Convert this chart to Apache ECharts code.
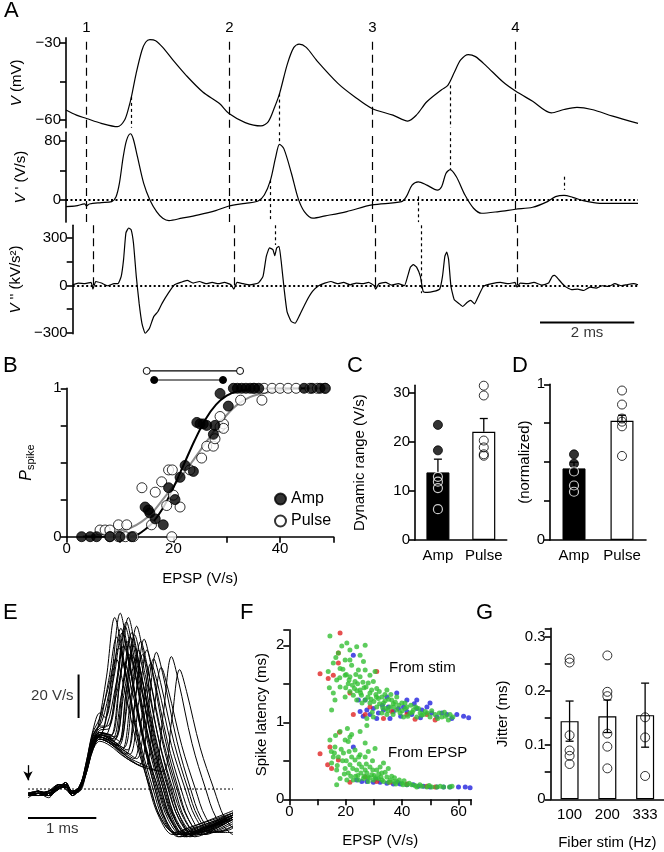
<!DOCTYPE html>
<html><head><meta charset="utf-8">
<script src="https://cdn.jsdelivr.net/npm/echarts@6/dist/echarts.min.js"></script>
<style>html,body{margin:0;padding:0;background:#fff}#c{width:664px;height:852px}</style>
</head><body><div id="c"></div>
<script>
// ================= DATA =================
// Panel A (time in ms)
const stimTimes = [0.43, 3.43, 6.43, 9.43];
const stimLabels = ['1', '2', '3', '4'];
const vTrace = [[0,-56.1],[0.22,-58.1],[0.43,-59.4],[0.74,-61.3],[1.08,-62.6],[1.23,-60.0],[1.32,-54.9],[1.38,-50.3],[1.47,-42.0],[1.59,-33.0],[1.67,-29.7],[1.76,-28.7],[1.88,-29.1],[2.03,-31.7],[2.25,-36.8],[2.52,-42.6],[2.87,-49.1],[3.22,-53.6],[3.42,-57.5],[3.76,-61.0],[4.09,-62.3],[4.245,-60.6],[4.38,-54.8],[4.48,-49.7],[4.645,-38.1],[4.78,-31.7],[4.89,-30.4],[5.04,-31.7],[5.26,-36.8],[5.71,-45.8],[6.06,-51.0],[6.42,-55.5],[6.86,-58.1],[7.17,-60.4],[7.35,-58.1],[7.57,-52.9],[7.88,-48.2],[8.01,-46.5],[8.15,-41.3],[8.28,-36.6],[8.44,-34.5],[8.59,-35.3],[8.81,-38.8],[9.17,-45.2],[9.43,-48.7],[9.79,-52.7],[10.18,-57.2],[10.45,-55.9],[10.72,-55.1],[11.03,-55.9],[11.47,-58.5],[12.0,-61.3]];
const dvTrace = [[0,-9.0],[0.21,-8.1],[0.39,-5.4],[0.43,-8.1],[0.49,-5.4],[0.74,-3.6],[0.96,-2.2],[1.05,4.5],[1.12,22.5],[1.20,58.4],[1.27,80.9],[1.35,89.9],[1.41,83.1],[1.50,58.4],[1.63,22.5],[1.76,0],[1.90,-15.7],[2.03,-24.7],[2.16,-27.9],[2.43,-24.7],[2.78,-20.2],[3.14,-14.4],[3.42,-8.1],[3.76,-4.5],[4.03,-1.3],[4.16,6.7],[4.29,27.0],[4.40,58.4],[4.48,75.5],[4.57,69.7],[4.73,36.0],[4.87,2.2],[5.00,-15.7],[5.18,-24.7],[5.44,-21.6],[5.89,-15.7],[6.42,-6.7],[7.04,-2.2],[7.14,4.5],[7.26,20.2],[7.39,24.7],[7.57,20.2],[7.79,13.5],[7.88,18.0],[7.97,36.0],[8.06,41.3],[8.19,31.5],[8.37,6.7],[8.55,-11.2],[8.72,-18.0],[9.08,-15.7],[9.43,-12.6],[9.79,-9.9],[10.10,-2.2],[10.27,4.5],[10.45,6.3],[10.63,3.6],[10.85,-0.9],[11.20,-4.5],[12.0,-4.5]];
const d2vTrace = [[0,4],[0.12,15],[0.26,11],[0.39,19],[0.43,-23],[0.49,25],[0.61,15],[0.74,-2],[0.88,11],[0.96,11],[1.03,57],[1.08,163],[1.13,332],[1.19,363],[1.24,353],[1.29,268],[1.35,57],[1.41,-112],[1.47,-239],[1.54,-302],[1.63,-270],[1.72,-197],[1.81,-165],[1.90,-112],[2.03,-49],[2.16,4],[2.29,19],[2.43,32],[2.56,15],[2.69,25],[2.83,11],[2.96,19],[3.09,11],[3.22,19],[3.36,4],[3.42,-23],[3.49,19],[3.62,11],[3.76,4],[3.94,15],[4.04,57],[4.11,184],[4.18,237],[4.25,226],[4.29,188],[4.33,237],[4.38,247],[4.43,142],[4.49,-27],[4.55,-165],[4.64,-228],[4.72,-239],[4.82,-186],[4.96,-101],[5.09,-38],[5.22,-2],[5.35,15],[5.48,25],[5.62,11],[5.75,19],[5.89,4],[6.02,15],[6.15,11],[6.28,19],[6.40,-2],[6.43,-23],[6.50,11],[6.64,19],[6.77,2],[6.91,11],[7.04,-2],[7.11,57],[7.17,116],[7.23,131],[7.30,116],[7.38,57],[7.44,-38],[7.53,-44],[7.66,-38],[7.79,-23],[7.85,57],[7.90,184],[7.94,211],[7.98,163],[8.03,-6],[8.10,-91],[8.19,-112],[8.28,-133],[8.37,-108],[8.45,-95],[8.53,-116],[8.61,-70],[8.72,-6],[8.90,11],[9.08,19],[9.25,11],[9.39,19],[9.43,-11],[9.50,15],[9.65,11],[9.79,19],[9.96,2],[10.10,15],[10.18,57],[10.23,63],[10.32,36],[10.45,-6],[10.59,-27],[10.72,-23],[10.85,-32],[10.98,-11],[11.11,-17],[11.24,-2],[11.38,-6],[11.51,11],[11.65,-2],[11.78,6],[11.91,11],[12.0,4]];
// dotted spike-time markers: [time, from, to] in each trace's units
const dotSegV = [[1.36,-51.0,-63],[4.48,-49.7,-63],[8.06,-46.5,-63]];
const dotSegDV = [[4.48,92,75.5],[8.06,92,41.3],[4.29,27,-30],[7.39,5,-30],[10.45,31.6,13.6]];
const dotSegD2V = [[4.29,380,256],[7.39,380,-49]];
const scaleBarA = {from: 9.92, to: 11.92, level: -234, label: '2 ms'};

// Panel B
const bAmpPts = [[2.8,0],[4.4,0],[5.6,0],[8.1,0],[10,0],[12.2,0],[14.7,0.2],[15.3,0.18],[15.6,0.16],[16.6,0.12],[18.1,0.08],[19.1,0.33],[20.3,0.25],[21.25,0.40],[22.2,0.48],[23.75,0.44],[24.4,0.77],[25,0.76],[25.6,0.76],[26.25,0.75],[27.5,0.69],[27.8,0.75],[28.75,0.965],[30.3,0.88],[31.25,1],[32,1],[32.8,1],[33.6,1],[34.4,1],[35.2,1],[36,1],[44.5,1],[46,1],[47.5,1],[48.4,1]];
const bPulsePts = [[6.25,0.045],[7.2,0.045],[8.1,0.045],[9.7,0.08],[11.25,0.08],[8.1,0],[9.7,0],[11,0],[12.5,0],[14.1,0.33],[15.9,0.08],[16.6,0.30],[17.8,0.37],[18.75,0.21],[19.7,0],[19.1,0.45],[19.8,0.45],[20,0.28],[21.25,0.20],[23.1,0.45],[25.3,0.53],[26.25,0.61],[27.5,0.61],[27.8,0.66],[28.75,0.74],[29.4,0.76],[28.75,0.81],[29.4,0.73],[32.6,0.92],[36.6,0.92],[35,1],[37,1],[38.5,1],[40,1],[41.5,1],[43,1],[45.6,1],[47,1],[48.5,1]];
const bAmpFit = [[3,0],[12,0],[13,0.01],[14,0.03],[16,0.09],[18,0.19],[20,0.33],[22,0.49],[24,0.65],[26,0.79],[28,0.89],[30,0.95],[32,0.98],[35,0.995],[40,1],[49,1]];
const bPulseFit = [[3,0],[7,0.02],[10,0.04],[12,0.06],[14,0.1],[16,0.16],[18,0.25],[20,0.34],[22,0.43],[24,0.53],[26,0.63],[28,0.73],[30,0.82],[32,0.89],[35,0.95],[40,0.985],[45,1],[49,1]];
const bAmpRange = [[16.4,1.056],[29.3,1.056]];
const bPulseRange = [[15.0,1.117],[32.5,1.117]];

// Panels C and D
const groups = ['Amp', 'Pulse'];
const cMean = [13.8, 22.1];
const cSem = [2.7, 2.7];
const cAmpCells = [23.5, 18.3, 12.9, 11.9, 10.6, 6.3];
const cPulseCells = [31.5, 29.5, 20.3, 18.9, 17.5, 17.2];
const dMean = [0.46, 0.766];
const dSem = [0.04, 0.035];
const dAmpCells = [0.55, 0.49, 0.44, 0.35, 0.31];
const dPulseCells = [0.96, 0.87, 0.78, 0.76, 0.73, 0.54];

// Panel E (t in ms, V' in V/s)
const eTraces = [
 [[0,-3],[0.15,-1],[0.3,-3],[0.45,1],[0.55,2],[0.65,-2],[0.75,0],[0.85,9],[0.95,22],[1.02,28],[1.15,52],[1.27,79],[1.37,65],[1.57,28],[1.77,1],[1.92,-13],[2.12,-21],[2.32,-19],[3.0,-12]],
 [[0,-2],[0.15,-3],[0.3,-1],[0.45,2],[0.55,0],[0.65,-3],[0.75,1],[0.85,10],[0.95,21],[1.1,27],[1.23,54],[1.35,81],[1.45,66],[1.65,28],[1.85,1],[2.0,-14],[2.2,-22],[2.4,-20],[3.0,-11]],
 [[0,-4],[0.15,-2],[0.3,-2],[0.45,0],[0.55,3],[0.65,-1],[0.75,-1],[0.85,7],[0.95,19],[1.05,25],[1.17,26],[1.30,50],[1.42,75],[1.52,62],[1.72,26],[1.92,1],[2.07,-13],[2.27,-21],[2.47,-19],[3.0,-13]],
 [[0,-3],[0.15,-2],[0.3,-4],[0.45,1],[0.55,1],[0.65,-2],[0.75,1],[0.85,11],[0.95,24],[1.05,30],[1.18,50],[1.30,70],[1.40,57],[1.60,25],[1.80,0],[1.95,-14],[2.15,-20],[2.35,-18],[3.0,-10]],
 [[0,-2],[0.15,-2],[0.3,-3],[0.45,0],[0.55,2],[0.65,-2],[0.75,0],[0.85,12],[0.95,27],[1.05,35],[1.13,33],[1.26,52],[1.38,72],[1.48,59],[1.68,25],[1.88,0],[2.03,-15],[2.23,-22],[2.43,-20],[3.0,-14]],
 [[0,-3],[0.15,-1],[0.3,-2],[0.45,2],[0.55,1],[0.65,-3],[0.75,0],[0.85,8],[0.95,20],[1.05,25],[1.2,24],[1.33,46],[1.45,68],[1.55,56],[1.75,24],[1.95,0],[2.1,-14],[2.3,-21],[2.5,-19],[3.0,-12]],
 [[0,-2],[0.15,-3],[0.3,-2],[0.45,1],[0.55,2],[0.65,-1],[0.75,1],[0.85,9],[0.95,20],[1.05,24],[1.25,22],[1.38,46],[1.50,70],[1.60,57],[1.80,25],[2.0,0],[2.15,-14],[2.35,-21],[2.55,-19],[3.0,-13]],
 [[0,-3],[0.15,-2],[0.3,-3],[0.45,0],[0.55,2],[0.65,-2],[0.75,-1],[0.85,7],[0.95,18],[1.05,23],[1.3,20],[1.43,43],[1.55,66],[1.65,54],[1.85,23],[2.05,0],[2.2,-13],[2.4,-20],[2.6,-18],[3.0,-12]],
 [[0,-2],[0.15,-2],[0.3,-1],[0.45,1],[0.55,3],[0.65,-2],[0.75,0],[0.85,10],[0.95,21],[1.05,26],[1.2,25],[1.34,22],[1.47,48],[1.59,75],[1.69,62],[1.89,26],[2.09,1],[2.24,-14],[2.44,-22],[2.64,-20],[3.0,-14]],
 [[0,-3],[0.15,-1],[0.3,-3],[0.45,2],[0.55,1],[0.65,-2],[0.75,0],[0.85,9],[0.95,20],[1.05,24],[1.2,21],[1.37,18],[1.5,41],[1.62,64],[1.72,52],[1.92,22],[2.12,0],[2.27,-13],[2.47,-20],[2.67,-19],[3.0,-13]],
 [[0,-2],[0.15,-3],[0.3,-2],[0.45,0],[0.55,2],[0.65,-1],[0.75,1],[0.85,8],[0.95,19],[1.05,23],[1.2,21],[1.43,16],[1.56,39],[1.68,62],[1.78,51],[1.98,22],[2.18,0],[2.33,-13],[2.53,-20],[2.73,-18],[3.0,-14]],
 [[0,-3],[0.15,-2],[0.3,-2],[0.45,1],[0.55,1],[0.65,-3],[0.75,0],[0.85,10],[0.95,22],[1.05,26],[1.2,24],[1.35,19],[1.49,16],[1.62,40],[1.74,64],[1.84,52],[2.04,22],[2.24,0],[2.39,-13],[2.59,-21],[2.79,-19],[3.0,-16]],
 [[0,-2],[0.15,-1],[0.3,-3],[0.45,2],[0.55,2],[0.65,-2],[0.75,1],[0.85,9],[0.95,20],[1.05,24],[1.2,22],[1.4,17],[1.55,14],[1.68,36],[1.80,58],[1.9,48],[2.1,20],[2.3,0],[2.45,-13],[2.65,-20],[2.85,-19],[3.0,-17]],
 [[0,-3],[0.15,-2],[0.3,-1],[0.45,0],[0.55,3],[0.65,-1],[0.75,0],[0.85,8],[0.95,19],[1.05,23],[1.2,21],[1.4,16],[1.63,11],[1.76,37],[1.88,63],[1.98,52],[2.18,22],[2.38,0],[2.53,-13],[2.73,-20],[2.93,-19],[3.0,-18]],
 [[0,-2],[0.15,-3],[0.3,-2],[0.45,1],[0.55,1],[0.65,-2],[0.75,-1],[0.85,7],[0.95,18],[1.05,22],[1.2,20],[1.4,15],[1.7,10],[1.83,33],[1.95,56],[2.05,46],[2.25,20],[2.45,0],[2.6,-13],[2.8,-20],[3.0,-20]],
 [[0,-3],[0.15,-1],[0.3,-3],[0.45,1],[0.55,2],[0.65,-3],[0.75,0],[0.85,9],[0.95,20],[1.05,24],[1.2,22],[1.45,15],[1.7,11],[1.85,9],[1.98,35],[2.10,61],[2.2,50],[2.4,21],[2.6,0],[2.75,-13],[2.95,-20],[3.0,-21]],
 [[0,-2],[0.15,-2],[0.3,-3],[0.45,0],[0.55,2],[0.65,-1],[0.75,1],[0.85,8],[0.95,19],[1.05,23],[1.2,21],[1.45,14],[1.7,10],[1.97,8],[2.10,31],[2.22,55],[2.32,45],[2.52,19],[2.72,0],[2.87,-13],[3.0,-18]],
 [[0,-3],[0.15,-3],[0.3,-1],[0.45,1],[0.55,2],[0.65,-2],[0.75,0],[0.85,10],[0.95,23],[1.05,28],[1.15,29],[1.28,47],[1.40,66],[1.50,54],[1.70,23],[1.90,0],[2.05,-14],[2.25,-21],[2.45,-20],[3.0,-12]],
 [[0,-2],[0.15,-2],[0.3,-2],[0.45,2],[0.55,0],[0.65,-2],[0.75,1],[0.85,9],[0.95,21],[1.05,26],[1.23,23],[1.36,42],[1.48,62],[1.58,51],[1.78,22],[1.98,0],[2.13,-13],[2.33,-21],[2.53,-19],[3.0,-13]],
 [[0,-3],[0.15,-2],[0.3,-3],[0.45,1],[0.55,2],[0.65,-2],[0.75,0],[0.85,11],[0.95,25],[1.08,31],[1.21,48],[1.33,65],[1.43,53],[1.63,23],[1.83,0],[1.98,-14],[2.18,-21],[2.38,-19],[3.0,-11]],
 [[0,-2],[0.15,-1],[0.3,-3],[0.45,0],[0.55,1],[0.65,-3],[0.75,0],[0.85,8],[0.95,20],[1.05,25],[1.27,23],[1.40,48],[1.52,72],[1.62,59],[1.82,25],[2.02,0],[2.17,-15],[2.37,-22],[2.57,-20],[3.0,-13]],
 [[0,-3],[0.15,-2],[0.3,-2],[0.45,1],[0.55,2],[0.65,-2],[0.75,1],[0.85,9],[0.95,21],[1.05,25],[1.2,23],[1.4,19],[1.53,44],[1.65,68],[1.75,56],[1.95,24],[2.15,0],[2.3,-14],[2.5,-21],[2.7,-19],[3.0,-14]],
 [[0,-2],[0.15,-3],[0.3,-1],[0.45,2],[0.55,1],[0.65,-1],[0.75,0],[0.85,10],[0.95,22],[1.05,27],[1.19,28],[1.32,52],[1.44,77],[1.54,63],[1.74,27],[1.94,1],[2.09,-14],[2.29,-22],[2.49,-20],[3.0,-12]],
 [[0,-3],[0.15,-1],[0.3,-2],[0.45,0],[0.55,3],[0.65,-2],[0.75,-1],[0.85,8],[0.95,19],[1.05,24],[1.2,22],[1.33,20],[1.46,40],[1.58,60],[1.68,49],[1.88,21],[2.08,0],[2.23,-13],[2.43,-20],[2.63,-19],[3.0,-13]],
 [[0,-2],[0.15,-2],[0.3,-3],[0.45,1],[0.55,1],[0.65,-2],[0.75,0],[0.85,10],[0.95,22],[1.1,27],[1.24,50],[1.36,74],[1.46,61],[1.66,26],[1.86,0],[2.01,-14],[2.21,-21],[2.41,-19],[3.0,-12]],
 [[0,-3],[0.15,-2],[0.3,-1],[0.45,1],[0.55,2],[0.65,-2],[0.75,1],[0.85,9],[0.95,21],[1.05,26],[1.22,25],[1.35,52],[1.47,79],[1.57,65],[1.77,28],[1.97,1],[2.12,-14],[2.32,-22],[2.52,-20],[3.0,-13]],
 [[0,-2],[0.15,-3],[0.3,-2],[0.45,0],[0.55,2],[0.65,-1],[0.75,0],[0.85,8],[0.95,20],[1.05,25],[1.31,21],[1.44,46],[1.56,71],[1.66,58],[1.86,25],[2.06,0],[2.21,-14],[2.41,-21],[2.61,-19],[3.0,-13]],
 [[0,-3],[0.15,-1],[0.3,-2],[0.45,2],[0.55,1],[0.65,-2],[0.75,1],[0.85,9],[0.95,21],[1.05,25],[1.2,23],[1.45,18],[1.58,44],[1.70,69],[1.80,57],[2.0,24],[2.2,0],[2.35,-14],[2.55,-21],[2.75,-19],[3.0,-15]],
 [[0,-2],[0.15,-2],[0.3,-3],[0.45,1],[0.55,2],[0.65,-2],[0.75,0],[0.85,12],[0.95,26],[1.04,32],[1.17,46],[1.29,60],[1.39,49],[1.59,21],[1.79,0],[1.94,-13],[2.14,-20],[2.34,-18],[3.0,-11]],
 [[0,-3],[0.15,-2],[0.3,-2],[0.45,0],[0.55,1],[0.65,-2],[0.75,0],[0.85,10],[0.95,24],[1.05,29],[1.16,29],[1.29,43],[1.41,58],[1.51,47],[1.71,20],[1.91,0],[2.06,-13],[2.26,-20],[2.46,-19],[3.0,-12]],
 [[0,-2],[0.15,-1],[0.3,-3],[0.45,1],[0.55,2],[0.65,-2],[0.75,1],[0.85,9],[0.95,20],[1.05,24],[1.2,22],[1.4,18],[1.59,14],[1.72,37],[1.84,60],[1.94,49],[2.14,21],[2.34,0],[2.49,-13],[2.69,-20],[2.89,-19],[3.0,-17]],
 [[0,-3],[0.15,-3],[0.3,-2],[0.45,1],[0.55,1],[0.65,-2],[0.75,0],[0.85,9],[0.95,21],[1.05,26],[1.27,24],[1.40,43],[1.52,62],[1.62,51],[1.82,22],[2.02,0],[2.17,-14],[2.37,-21],[2.57,-19],[3.0,-13]]
];
const eScaleV = {t: 0.74, from: 32.7, to: 52.7, label: '20 V/s'};
const eScaleT = {from: 0, to: 1, level: -13.4, label: '1 ms'};
const eArrow = {t: 0, from: 11, to: 4};

// Panel F (EPSP slope V/s, latency ms)
const fStimGreen = [[14.4,2.12],[22.7,2.22],[17.4,1.90],[20.4,2.03],[21.5,1.94],[15.6,1.77],[13.8,1.66],[18,1.70],[19.8,1.81],[23.9,1.98],[25.1,1.87],[26.9,2.0],[26.3,1.79],[21.5,1.81],[16.8,1.55],[19.8,1.61],[21.5,1.59],[23.3,1.53],[25.1,1.59],[26.9,1.68],[28,1.51],[29.8,1.53],[31,1.44],[32.8,1.33],[34.6,1.42],[36.3,1.29],[38.1,1.33],[39.9,1.25],[41.7,1.2],[44,1.16],[45.8,1.18],[47.6,1.1],[49.9,1.07],[51.7,1.1],[54.1,1.07],[56.4,1.03],[57,1.1],[15,1.16],[16.2,1.29],[21.5,1.40],[22.7,1.35],[23.9,1.29],[26.9,1.29],[28.6,1.25],[31,1.2],[32.8,1.12],[34.6,1.10],[35.7,1.2],[38.1,1.16],[40.5,1.07],[42.8,1.12],[28.6,1.38],[31.6,1.31],[33.4,1.25],[27.5,0.96],[27.5,1.05],[29.8,1.07],[25.1,1.42],[18,1.46],[15.6,1.38],[19.8,1.33],[24.5,1.68],[30.4,1.66],[28.6,1.61],[22.1,1.74],[39.3,1.12],[45.2,1.07],[48.2,1.14],[24.2,1.5],[26.5,1.45],[29.2,1.42],[33.9,1.36],[36.9,1.24],[43.1,1.22],[50.5,1.15],[53.2,1.12],[55.4,1.08],[30.7,1.36],[35.2,1.3],[37.6,1.26],[41.1,1.18],[46.4,1.12],[20.9,1.5],[17.9,1.58],[25.6,1.35],[20.2,1.62],[21.2,1.55],[22.4,1.48],[23.1,1.44],[24.0,1.41],[25.3,1.38],[26.1,1.52],[27.2,1.46],[27.9,1.33],[29.0,1.30],[30.0,1.27],[30.9,1.33],[32.0,1.24],[33.1,1.19],[34.0,1.28],[35.0,1.15],[36.0,1.36],[37.1,1.2],[38.8,1.22],[40.0,1.15],[41.0,1.25],[42.0,1.08],[43.6,1.13],[44.8,1.2],[46.9,1.09],[49.0,1.12],[52.6,1.05],[55.0,1.13],[58.0,1.07],[19.0,1.69],[16.5,1.84],[23.6,1.62],[20.0,1.45],[25.8,1.25],[31.9,1.4],[34.3,1.18],[36.8,1.1],[29.4,1.13],[14.2,1.45],[18.6,1.99]];
const fStimRed = [[10.9,1.63],[18,2.16],[13.8,1.57],[17.4,1.77],[17.4,1.9],[21.5,1.38],[26.9,1.10],[31,1.66],[33.4,1.05],[41.7,1.10],[48.8,1.10],[51.7,1.03],[28.6,1.2],[22.7,1.10],[15.6,1.61],[36.3,1.14],[44.6,1.04]];
const fStimBlue = [[24.5,1.29],[25.1,1.14],[27.5,1.16],[29.8,1.18],[31.6,1.12],[33.4,1.16],[35.1,1.2],[36.9,1.14],[38.7,1.18],[40.5,1.2],[41.7,1.14],[43.4,1.10],[45.2,1.18],[47,1.16],[48.8,1.2],[50.5,1.12],[52.3,1.07],[54.1,1.12],[55.9,1.10],[57.6,1.05],[59.4,1.10],[61.8,1.08],[63.6,1.06],[34.6,1.33],[38.1,1.38],[28.6,1.10],[31,1.05],[35.7,1.05],[22.7,1.87],[26.9,1.29],[41.7,1.29],[45.2,1.29],[49.9,1.25],[39.5,1.08],[44.3,1.24],[33,1.22],[26.2,1.08],[46.5,1.06]];
const fEpspGreen = [[14.4,0.77],[16.2,0.68],[17.4,0.55],[19.2,0.60],[19.8,0.77],[20.9,0.75],[22.1,0.84],[25.1,0.88],[26.9,0.73],[16.8,0.38],[15,0.47],[18,0.27],[20.4,0.25],[20.9,0.34],[21.5,0.45],[22.1,0.55],[23.3,0.51],[23.9,0.38],[25.1,0.58],[25.7,0.42],[26.9,0.55],[27.5,0.34],[28.6,0.42],[29.2,0.32],[30.4,0.66],[31,0.38],[31.6,0.27],[32.8,0.34],[33.4,0.47],[34.6,0.29],[35.7,0.25],[36.9,0.23],[38.1,0.23],[39.9,0.21],[41.7,0.19],[43.4,0.19],[45.2,0.16],[47,0.17],[48.8,0.16],[50.5,0.16],[52.3,0.16],[54.7,0.16],[56.8,0.16],[22.7,0.25],[24.5,0.25],[26.3,0.27],[28,0.23],[29.8,0.25],[28,0.62],[23.3,0.64],[19.8,0.40],[16.8,0.19],[15.6,0.55],[18,0.88],[21.5,0.81],[33.4,0.23],[32.2,0.42],[35.1,0.40],[26.9,0.38],[24.3,0.31],[27.8,0.29],[30.1,0.31],[32.5,0.29],[29.5,0.5],[24.8,0.46],[37.3,0.28],[40.7,0.24],[21.8,0.3],[18.9,0.5],[16.0,0.6],[17.0,0.44],[18.4,0.65],[19.5,0.33],[20.2,0.5],[21.2,0.62],[22.5,0.4],[23.5,0.3],[24.6,0.55],[25.4,0.34],[26.5,0.3],[27.3,0.46],[28.4,0.28],[29.6,0.38],[30.6,0.28],[31.7,0.33],[32.9,0.25],[34.0,0.35],[35.2,0.22],[36.3,0.3],[37.8,0.2],[39.0,0.25],[40.3,0.19],[42.5,0.21],[44.6,0.18],[46.3,0.19],[49.6,0.18],[53.5,0.17],[57.7,0.17],[16.4,0.83],[20.6,0.92],[14.9,0.62]];
const fEpspRed = [[10.9,0.59],[14.4,0.68],[17.8,0.87],[15,0.40],[17.4,0.51],[21.5,0.22],[26.9,0.29],[31,0.23],[35.7,0.22],[41.7,0.2],[48.8,0.17],[51.7,0.16],[13.6,0.45]];
const fEpspBlue = [[23.9,0.25],[25.7,0.23],[27.5,0.23],[29.8,0.22],[32.2,0.22],[34.6,0.21],[36.9,0.2],[39.3,0.2],[41.7,0.19],[44,0.19],[45.8,0.17],[47.6,0.17],[49.9,0.16],[52.3,0.16],[54.7,0.16],[57,0.16],[60,0.16],[62.4,0.16],[64.1,0.15],[22.7,0.68],[30.8,0.26],[38.4,0.22]];

// Panel G
const gCats = ['100', '200', '333'];
const gMean = [0.144, 0.153, 0.155];
const gSem = [0.037, 0.030, 0.059];
const gCells = [
  [0.259, 0.252, 0.118, 0.090, 0.080, 0.065],
  [0.265, 0.198, 0.190, 0.121, 0.097, 0.057],
  [0.316, 0.151, 0.114, 0.043]
];

// ================= CHART =================
const FONT = "'Liberation Sans', Arial, Helvetica, sans-serif";
const K = '#000';
const minusFmt = v => String(v).replace('-', '\u2212');

function merge(a, b) {
  const o = Object.assign({}, a);
  for (const k in b) {
    if (b[k] && typeof b[k] === 'object' && !Array.isArray(b[k]) && a[k] && typeof a[k] === 'object' && !Array.isArray(a[k])) o[k] = merge(a[k], b[k]);
    else o[k] = b[k];
  }
  return o;
}
const axisCommon = {
  axisLine: {show: true, onZero: false, lineStyle: {color: K, width: 1.6}},
  axisTick: {show: true, inside: false, length: 6, lineStyle: {color: K, width: 1.6}},
  axisLabel: {show: true, color: K, fontSize: 15, fontFamily: FONT, margin: 5},
  splitLine: {show: false},
  nameLocation: 'middle',
  nameTextStyle: {color: K, fontSize: 15, fontFamily: FONT}
};
const yAx = (gi, o) => merge(merge(axisCommon, {gridIndex: gi, type: 'value', nameRotate: 90}), o);
const xAx = (gi, o) => merge(merge(axisCommon, {gridIndex: gi, type: 'value'}), o);
const hiddenX = (gi, min, max) => ({gridIndex: gi, type: 'value', min, max, show: false});
const italicRich = {i: {fontStyle: 'italic', fontSize: 15, fontFamily: FONT, color: K}};

const grids = [
  {left: 66, top: 37.9, width: 572, height: 89.8},
  {left: 66, top: 132.2, width: 572, height: 89.9},
  {left: 66, top: 225.3, width: 572, height: 108.4},
  {left: 66.7, top: 388.3, width: 266.7, height: 148.4},
  {left: 415, top: 385.2, width: 91.7, height: 154.8},
  {left: 550, top: 384.3, width: 96, height: 155.7},
  {left: 28, top: 604.5, width: 205, height: 245.3},
  {left: 289.3, top: 629.9, width: 181.9, height: 169.4},
  {left: 550.7, top: 628.3, width: 114, height: 171}
].map(g => Object.assign({containLabel: false}, g));

const xAxes = [
  hiddenX(0, 0, 12), hiddenX(1, 0, 12), hiddenX(2, 0, 12),
  xAx(3, {min: 0, max: 50, interval: 10, axisLabel: {formatter: v => (v % 20 === 0 && v < 50) ? v : ''}, name: 'EPSP (V/s)', nameGap: 35}),
  merge(axisCommon, {gridIndex: 4, type: 'category', data: groups, axisTick: {show: false}, axisLabel: {margin: 8, interval: 0}}),
  merge(axisCommon, {gridIndex: 5, type: 'category', data: groups, axisTick: {show: false}, axisLabel: {margin: 8, interval: 0}}),
  hiddenX(6, 0, 3),
  xAx(7, {min: 0, max: 64.5, interval: 10, axisLabel: {formatter: v => (v % 20 === 0) ? v : ''}, name: 'EPSP (V/s)', nameGap: 34}),
  merge(axisCommon, {gridIndex: 8, type: 'category', data: gCats, axisTick: {show: false}, axisLabel: {margin: 8, interval: 0}, name: 'Fiber stim (Hz)', nameGap: 36})
];

const yAxes = [
  yAx(0, {min: -63, max: -28, axisTick: {customValues: [-30, -45, -60]}, axisLabel: {customValues: [-30, -60], formatter: minusFmt},
    name: '{i|V} (mV)', nameGap: 38, nameTextStyle: {rich: italicRich}}),
  yAx(1, {min: -30, max: 92, axisTick: {customValues: [80, 40, 0]}, axisLabel: {customValues: [80, 0]},
    name: "{i|V} ' (V/s)", nameGap: 38, nameTextStyle: {rich: italicRich}}),
  yAx(2, {min: -305, max: 380, axisTick: {customValues: [300, 150, 0, -150, -300]}, axisLabel: {customValues: [300, 0, -300], formatter: minusFmt},
    name: "{i|V} '' (kV/s\u00B2)", nameGap: 38, nameTextStyle: {rich: italicRich}}),
  yAx(3, {min: 0, max: 1, interval: 0.25, axisLabel: {formatter: v => (v === 0 || v === 1) ? v : ''},
    name: '{i|P}{s|spike}', nameGap: 30, nameTextStyle: {rich: {i: {fontStyle: 'italic', fontSize: 16, fontFamily: FONT, color: K, lineHeight: 20}, s: {fontSize: 11, fontFamily: FONT, color: K, verticalAlign: 'bottom', lineHeight: 12}}}}),
  yAx(4, {min: 0, max: 31.6, interval: 10, name: 'Dynamic range (V/s)', nameGap: 48}),
  yAx(5, {min: 0, max: 1, interval: 0.25, axisLabel: {formatter: v => (v === 0 || v === 1) ? v : ''}, name: '(normalized)', nameGap: 14}),
  {gridIndex: 6, type: 'value', min: -28, max: 85, show: false},
  yAx(7, {min: 0, max: 2.2, interval: 0.5, axisLabel: {formatter: v => Number.isInteger(v) ? v : ''}, name: 'Spike latency (ms)', nameGap: 20}),
  yAx(8, {min: 0, max: 0.315, interval: 0.05, axisLabel: {formatter: v => { const r = Math.round(v * 10); return Math.abs(v * 10 - r) < 1e-6 ? (r === 0 ? '0' : (r / 10).toFixed(1)) : ''; }},
    name: 'Jitter (ms)', nameGap: 40})
];

const series = [];
const lineS = (gi, data, extra) => Object.assign({type: 'line', xAxisIndex: gi, yAxisIndex: gi, data, showSymbol: false, symbol: 'none', lineStyle: {color: K, width: 1.2}, silent: true, z: 3}, extra || {});
const dashStim = {type: [8, 5], width: 1.2, color: K};
const dotSty = {type: [3, 3], width: 1.2, color: K};
const zeroSty = {type: [2, 2.5], width: 1.8, color: K};
const seg = (s) => [{coord: [s[0], s[1]], lineStyle: dotSty}, {coord: [s[0], s[2]], lineStyle: dotSty}];

// Panel A
series.push(lineS(0, vTrace, {smooth: 0.3, markLine: {silent: true, symbol: ['none', 'none'], label: {show: false},
  data: stimTimes.map((t, i) => ({xAxis: t, lineStyle: dashStim, label: {show: true, position: 'end', distance: 3, formatter: stimLabels[i], color: K, fontSize: 15, fontFamily: FONT}}))
    .concat(dotSegV.map(seg))}}));
series.push(lineS(1, dvTrace, {smooth: 0.3, markLine: {silent: true, symbol: ['none', 'none'], label: {show: false},
  data: stimTimes.map(t => ({xAxis: t, lineStyle: dashStim})).concat([{yAxis: 0, lineStyle: zeroSty}]).concat(dotSegDV.map(seg))}}));
series.push(lineS(2, d2vTrace, {smooth: 0.15, markLine: {silent: true, symbol: ['none', 'none'], label: {show: false},
  data: stimTimes.map(t => [{coord: [t, 380], lineStyle: dashStim}, {coord: [t, -15], lineStyle: dashStim}]).concat([{yAxis: 0, lineStyle: zeroSty}]).concat(dotSegD2V.map(seg))}}));
series.push(lineS(2, [[scaleBarA.from, scaleBarA.level], [scaleBarA.to, scaleBarA.level]], {lineStyle: {color: K, width: 2}}));
series.push({type: 'scatter', xAxisIndex: 2, yAxisIndex: 2, symbolSize: 0, data: [[(scaleBarA.from + scaleBarA.to) / 2, scaleBarA.level]],
  label: {show: true, position: 'bottom', distance: 3, formatter: scaleBarA.label, color: K, fontSize: 15, fontFamily: FONT}, silent: true});

// Panel B
series.push(lineS(3, bPulseFit, {smooth: 0.3, lineStyle: {color: '#8c8c8c', width: 2}}));
series.push(lineS(3, bAmpFit, {smooth: 0.3, lineStyle: {color: K, width: 2}}));
series.push({name: 'Pulse', type: 'scatter', xAxisIndex: 3, yAxisIndex: 3, data: bPulsePts, symbol: 'circle', symbolSize: 10,
  itemStyle: {color: '#fff', borderColor: K, borderWidth: 1}, z: 4, clip: false});
series.push({name: 'Amp', type: 'scatter', xAxisIndex: 3, yAxisIndex: 3, data: bAmpPts, symbol: 'circle', symbolSize: 10,
  itemStyle: {color: K, borderColor: K, borderWidth: 1}, z: 5, clip: false});
series.push(lineS(3, bPulseRange, {clip: false, showSymbol: true, symbol: 'circle', symbolSize: 7, itemStyle: {color: '#fff', borderColor: K, borderWidth: 1}, lineStyle: {color: K, width: 1.2}}));
series.push(lineS(3, bAmpRange, {clip: false, showSymbol: true, symbol: 'circle', symbolSize: 7, itemStyle: {color: K, borderColor: K}, lineStyle: {color: K, width: 1.2}}));

// Error bar renderer
function errBar(symmetric) {
  return function (params, api) {
    const x = api.value(0), m = api.value(1), e = api.value(2);
    const top = api.coord([x, m + e]);
    const base = api.coord([x, symmetric ? m - e : m]);
    const cw = 4, sty = {stroke: K, lineWidth: 1.3};
    const ch = [
      {type: 'line', shape: {x1: top[0], y1: top[1], x2: base[0], y2: base[1]}, style: sty},
      {type: 'line', shape: {x1: top[0] - cw, y1: top[1], x2: top[0] + cw, y2: top[1]}, style: sty}
    ];
    if (symmetric) ch.push({type: 'line', shape: {x1: base[0] - cw, y1: base[1], x2: base[0] + cw, y2: base[1]}, style: sty});
    return {type: 'group', children: ch};
  };
}
function barPanel(gi, means, sems, ampCells, pulseCells, bw) {
  series.push({type: 'bar', xAxisIndex: gi, yAxisIndex: gi, barWidth: bw, silent: true,
    data: means.map((m, i) => ({value: m, itemStyle: i === 0 ? {color: K, borderColor: K, borderWidth: 1} : {color: '#fff', borderColor: K, borderWidth: 1.2}}))});
  series.push({type: 'custom', xAxisIndex: gi, yAxisIndex: gi, silent: true, renderItem: errBar(false), encode: {x: 0, y: 1},
    data: means.map((m, i) => [i, m, sems[i]]), z: 3});
  series.push({type: 'scatter', xAxisIndex: gi, yAxisIndex: gi, symbolSize: 9, silent: true, z: 4,
    data: ampCells.map(v => ({value: [0, v], itemStyle: v > means[0] ? {color: K, borderColor: K, borderWidth: 1} : {color: 'rgba(0,0,0,0)', borderColor: '#fff', borderWidth: 1.2}}))});
  series.push({type: 'scatter', xAxisIndex: gi, yAxisIndex: gi, symbolSize: 9, silent: true, z: 4,
    data: pulseCells.map(v => [1, v]), itemStyle: {color: 'rgba(255,255,255,0)', borderColor: K, borderWidth: 1}});
}
barPanel(4, cMean, cSem, cAmpCells, cPulseCells, 23);
barPanel(5, dMean, dSem, dAmpCells, dPulseCells, 23);

// Panel E
eTraces.forEach(tr => series.push(lineS(6, tr, {smooth: 0.35, lineStyle: {color: K, width: 1}})));
series.push(lineS(6, [[0, 0], [3, 0]], {lineStyle: {color: K, width: 1, type: [2, 2]}}));
series.push(lineS(6, [[eScaleV.t, eScaleV.from], [eScaleV.t, eScaleV.to]], {lineStyle: {color: K, width: 2}}));
series.push(lineS(6, [[eScaleT.from, eScaleT.level], [eScaleT.to, eScaleT.level]], {lineStyle: {color: K, width: 2}}));
series.push({type: 'scatter', xAxisIndex: 6, yAxisIndex: 6, symbolSize: 0, silent: true,
  data: [{value: [eScaleV.t, (eScaleV.from + eScaleV.to) / 2], label: {position: 'left', distance: 5, formatter: eScaleV.label}},
         {value: [(eScaleT.from + eScaleT.to) / 2, eScaleT.level], label: {position: 'bottom', distance: 3, formatter: eScaleT.label}}],
  label: {show: true, color: K, fontSize: 15, fontFamily: FONT}});
series.push(lineS(6, [], {markLine: {silent: true, symbol: ['none', 'arrow'], symbolSize: [7, 9], label: {show: false},
  data: [[{coord: [eArrow.t, eArrow.from]}, {coord: [eArrow.t, eArrow.to]}]], lineStyle: {color: K, width: 1.3, type: 'solid'}}}));

// Panel F
const fCol = {g: '#35bf35', r: '#e02424', b: '#2222dd'};
const fS = (data, c) => ({type: 'scatter', xAxisIndex: 7, yAxisIndex: 7, data, symbol: 'circle', symbolSize: 5, itemStyle: {color: c}, silent: true});
series.push(fS(fStimBlue, fCol.b), fS(fEpspBlue, fCol.b), fS(fStimRed, fCol.r), fS(fEpspRed, fCol.r), fS(fStimGreen, fCol.g), fS(fEpspGreen, fCol.g));

// Panel G
series.push({type: 'bar', xAxisIndex: 8, yAxisIndex: 8, barWidth: 18, silent: true, data: gMean, itemStyle: {color: '#fff', borderColor: K, borderWidth: 1.2}});
series.push({type: 'custom', xAxisIndex: 8, yAxisIndex: 8, silent: true, renderItem: errBar(true), encode: {x: 0, y: 1},
  data: gMean.map((m, i) => [i, m, gSem[i]]), z: 3});
series.push({type: 'scatter', xAxisIndex: 8, yAxisIndex: 8, symbolSize: 9, silent: true, z: 4,
  data: gCells.flatMap((arr, i) => arr.map(v => [i, v])), itemStyle: {color: 'rgba(255,255,255,0)', borderColor: K, borderWidth: 1}});

const letter = (t, x, y) => ({type: 'text', left: x, top: y, style: {text: t, fontSize: 22, fontFamily: FONT, fill: K}});
const note = (t, x, y) => ({type: 'text', left: x, top: y, style: {text: t, fontSize: 15, fontFamily: FONT, fill: K}});

const chart = echarts.init(document.getElementById('c'), null, {renderer: 'canvas'});
chart.setOption({
  animation: false,
  backgroundColor: '#fff',
  textStyle: {fontFamily: FONT},
  grid: grids,
  xAxis: xAxes,
  yAxis: yAxes,
  legend: {data: [{name: 'Amp', icon: 'circle'}, {name: 'Pulse', icon: 'circle'}], orient: 'vertical', left: 274, top: 491,
    itemWidth: 11, itemHeight: 11, itemGap: 6, padding: 0, selectedMode: false, textStyle: {color: K, fontSize: 16, fontFamily: FONT}},
  graphic: [letter('A', 4, 0), letter('B', 3, 355), letter('C', 347, 355), letter('D', 512, 355), letter('E', 3, 602), letter('F', 240, 602), letter('G', 476, 602),
    note('From stim', 389, 660), note('From EPSP', 388, 745)],
  series
});
</script></body></html>
